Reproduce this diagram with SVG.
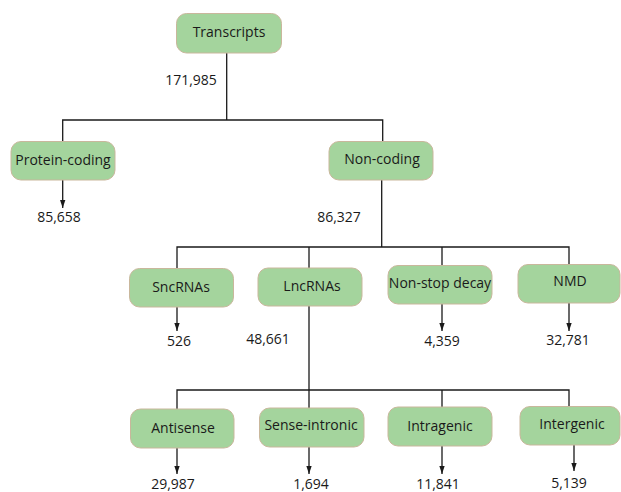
<svg xmlns="http://www.w3.org/2000/svg" width="621" height="492" viewBox="0 0 621 492">
<style>
.box{fill:#a4d49d;stroke:#c9b79c;stroke-width:1}
.t{font-family:"Open Sans","DejaVu Sans",sans-serif;font-size:14px;fill:#1a1a1a;text-anchor:middle}
.ln{fill:none;stroke:#1a1a1a;stroke-width:1.3}
</style>
<defs>
<marker id="arr" markerWidth="8" markerHeight="12" refX="12" refY="4" orient="auto" markerUnits="userSpaceOnUse" viewBox="0 0 12 8">
<path d="M0,0 L12,4 L0,8 Z" fill="#1a1a1a"/>
</marker>
</defs>
<g id="connectors">
<path class="ln" d="M226.7,53 V120 M62.7,141 V120 H382.7 V141"/>
<path class="ln" d="M381.7,180 V247 M177,268 V247 H569 V264 M309,247 V268 M442,247 V265"/>
<path class="ln" d="M309,306 V408 M177,409 V390 H569 V407 M442,390 V407"/>
<path class="ln" marker-end="url(#arr)" d="M62.7,180 V208"/>
<path class="ln" marker-end="url(#arr)" d="M177,307 V331"/>
<path class="ln" marker-end="url(#arr)" d="M442,304 V331"/>
<path class="ln" marker-end="url(#arr)" d="M569,303 V331"/>
<path class="ln" marker-end="url(#arr)" d="M177,448 V474"/>
<path class="ln" marker-end="url(#arr)" d="M309,447 V474"/>
<path class="ln" marker-end="url(#arr)" d="M442,446 V474"/>
<path class="ln" marker-end="url(#arr)" d="M574,445 V471"/>
</g>
<g id="transcripts"><rect class="box" x="176.5" y="13.5" width="105" height="39.5" rx="10"/><text class="t" x="229" y="37">Transcripts</text></g>
<g id="protein-coding"><rect class="box" x="11" y="141.5" width="104" height="38.5" rx="10"/><text class="t" x="63" y="165">Protein-coding</text></g>
<g id="non-coding"><rect class="box" x="329" y="141.5" width="104" height="38.5" rx="10"/><text class="t" x="382" y="164">Non-coding</text></g>
<g id="sncrnas"><rect class="box" x="129.5" y="268.5" width="104" height="38.5" rx="10"/><text class="t" x="181" y="292">SncRNAs</text></g>
<g id="lncrnas"><rect class="box" x="258" y="268" width="104" height="38" rx="10"/><text class="t" x="312" y="291">LncRNAs</text></g>
<g id="non-stop-decay"><rect class="box" x="388" y="265.5" width="104" height="38.5" rx="10"/><text class="t" x="440" y="288">Non-stop decay</text></g>
<g id="nmd"><rect class="box" x="518" y="264.5" width="102" height="38.5" rx="10"/><text class="t" x="570" y="286">NMD</text></g>
<g id="antisense"><rect class="box" x="130.5" y="409" width="103.5" height="39" rx="10"/><text class="t" x="183" y="433">Antisense</text></g>
<g id="sense-intronic"><rect class="box" x="259.5" y="408" width="104.5" height="39" rx="10"/><text class="t" x="311" y="430">Sense-intronic</text></g>
<g id="intragenic"><rect class="box" x="388" y="407" width="104" height="39" rx="10"/><text class="t" x="440" y="431">Intragenic</text></g>
<g id="intergenic"><rect class="box" x="520" y="406.5" width="100" height="38.5" rx="10"/><text class="t" x="572" y="429">Intergenic</text></g>
<g id="labels">
<text class="t" x="191" y="85">171,985</text>
<text class="t" x="59" y="222">85,658</text>
<text class="t" x="339" y="222">86,327</text>
<text class="t" x="179" y="346">526</text>
<text class="t" x="268" y="344">48,661</text>
<text class="t" x="442" y="346">4,359</text>
<text class="t" x="568" y="345">32,781</text>
<text class="t" x="173" y="489">29,987</text>
<text class="t" x="311" y="489">1,694</text>
<text class="t" x="438" y="489">11,841</text>
<text class="t" x="569" y="488">5,139</text>
</g>
</svg>
